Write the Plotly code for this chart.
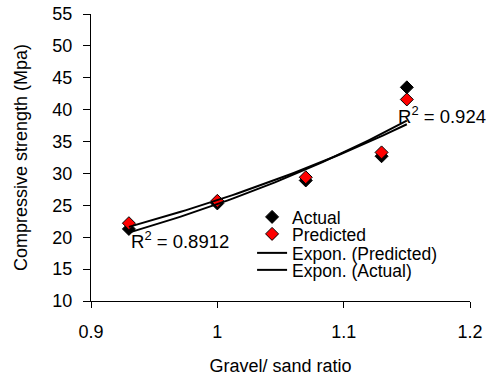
import numpy as np
import plotly.graph_objects as go

ratio = [0.93, 1.0, 1.07, 1.13, 1.15]
actual = [21.3, 25.3, 28.9, 32.7, 43.5]
predicted = [22.2, 25.7, 29.4, 33.3, 41.6]
r2_actual = "R<sup>2</sup> = 0.8912"
r2_pred = "R<sup>2</sup> = 0.924"

def expfit(x, y):
    b, a = np.polyfit(np.array(x), np.log(np.array(y)), 1)
    xs = np.linspace(min(x), max(x), 60)
    return xs, np.exp(a + b * xs)

FAM = "Liberation Sans, Arial"
font = dict(family=FAM, size=17, color="black")
fig = go.Figure()
fig.add_trace(go.Scatter(x=ratio, y=actual, mode="markers", name="Actual", legend="legend",
    marker=dict(symbol="diamond", size=10, color="black", line=dict(color="black", width=1))))
fig.add_trace(go.Scatter(x=ratio, y=predicted, mode="markers", name="Predicted", legend="legend2",
    marker=dict(symbol="diamond", size=10, color="red", line=dict(color="black", width=1))))
xs, yp = expfit(ratio, predicted)
fig.add_trace(go.Scatter(x=xs, y=yp, mode="lines", name="Expon. (Predicted)", legend="legend3",
    line=dict(color="black", width=2)))
xs, ya = expfit(ratio, actual)
fig.add_trace(go.Scatter(x=xs, y=ya, mode="lines", name="Expon. (Actual)", legend="legend4",
    line=dict(color="black", width=2)))

fig.add_annotation(x=0.93, y=19.6, xref="x", yref="y", text=r2_actual, showarrow=False,
    xanchor="left", yanchor="middle", xshift=0, font=dict(family=FAM, size=18.5, color="black"))
fig.add_annotation(x=1.145, y=39.2, xref="x", yref="y", text=r2_pred, showarrow=False,
    xanchor="left", yanchor="middle", xshift=-5, font=dict(family=FAM, size=18.5, color="black"))

def leg(py):
    return dict(x=0.425, y=(301 - py) / 287, xanchor="left", yanchor="middle",
                bgcolor="rgba(0,0,0,0)", font=dict(family=FAM, size=17.5, color="black"),
                itemwidth=30, borderwidth=0)

fig.update_layout(
    width=487, height=376, margin=dict(l=91, r=17, t=14, b=75, autoexpand=False),
    paper_bgcolor="white", plot_bgcolor="white", font=font,
    showlegend=True,
    legend=leg(217), legend2=leg(234), legend3=leg(253), legend4=leg(270),
)
fig.update_xaxes(range=[0.9, 1.2], tickvals=[0.9, 1.0, 1.1, 1.2], ticktext=["0.9", "1", "1.1", "1.2"],
    showline=True, linecolor="black", linewidth=1, ticks="outside", ticklen=6, tickcolor="black",
    tickfont=dict(family=FAM, size=18), ticklabelstandoff=8, automargin=False,
    showgrid=False, zeroline=False,
    title=dict(text="Gravel/ sand ratio", standoff=18, font=dict(family=FAM, size=18)))
fig.update_yaxes(range=[10, 55], dtick=5, showline=True, linecolor="black", linewidth=1,
    ticks="outside", ticklen=7, tickcolor="black", tickfont=dict(family=FAM, size=18), ticklabelstandoff=7,
    showgrid=False, zeroline=False, automargin=False,
    title=dict(text="Compressive strength (Mpa)", standoff=20, font=dict(family=FAM, size=18)))
fig.write_html("out.html")
